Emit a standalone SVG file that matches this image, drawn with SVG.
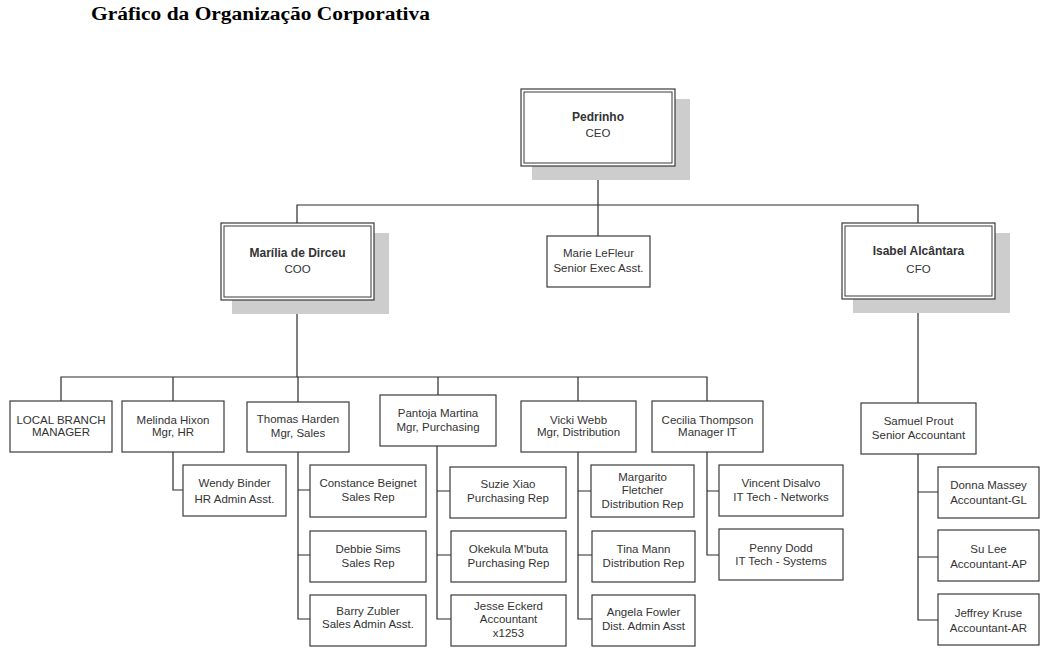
<svg xmlns="http://www.w3.org/2000/svg" width="1052" height="657" viewBox="0 0 1052 657">
<style>
.bx{fill:#fff;stroke:#3a3a3a;stroke-width:1.2}
.in{fill:none;stroke:#3a3a3a;stroke-width:1}
.sh{fill:#cdcdcd}
.t{font-family:"Liberation Sans",Arial,sans-serif;font-size:11.5px;fill:#333;text-anchor:middle}
.b{font-family:"Liberation Sans",Arial,sans-serif;font-size:12px;font-weight:bold;fill:#333;text-anchor:middle}
.cn{fill:none;stroke:#2a2a2a;stroke-width:1.2}
</style>
<rect width="1052" height="657" fill="#fff"/>
<text x="91" y="20" font-family="'Liberation Serif','Times New Roman',serif" font-size="18" font-weight="bold" fill="#000" textLength="339" lengthAdjust="spacingAndGlyphs">Gráfico da Organização Corporativa</text>

<g id="connectors">
<path class="cn" d="M598 166 V236"/>
<path class="cn" d="M297 223 V205 H918 V223"/>
<path class="cn" d="M918 299 V403"/>
<path class="cn" d="M297 300 V377"/>
<path class="cn" d="M61 401 V377 H707 V401"/>
<path class="cn" d="M173 377 V401 M298 377 V402 M438 377 V395 M578 377 V401"/>
<path class="cn" d="M173 452 V490 H183"/>
<path class="cn" d="M298 452 V619 H310 M298 490 H310 M298 555 H310"/>
<path class="cn" d="M437 446 V619 H451 M437 491 H450 M437 555 H451"/>
<path class="cn" d="M578 452 V619 H592 M578 491 H591 M578 555 H592"/>
<path class="cn" d="M707 452 V555 H719 M707 491 H719"/>
<path class="cn" d="M918 454 V620 H938 M918 492 H938 M918 557 H938"/>
</g>

<g id="ceo">
<rect class="sh" x="532" y="99" width="158" height="81"/>
<rect class="bx" x="521" y="89" width="154" height="77"/>
<rect class="in" x="524" y="92" width="148" height="71"/>
<text class="b" x="598" y="121">Pedrinho</text>
<text class="t" x="598" y="137">CEO</text>
</g>

<g id="coo">
<rect class="sh" x="232" y="233" width="157" height="81"/>
<rect class="bx" x="221" y="223" width="153" height="77"/>
<rect class="in" x="224" y="226" width="147" height="71"/>
<text class="b" x="297.5" y="257">Marília de Dirceu</text>
<text class="t" x="297.5" y="273">COO</text>
</g>

<g id="marie">
<rect class="bx" x="547" y="236" width="103" height="51"/>
<text class="t" x="598.5" y="257">Marie LeFleur</text>
<text class="t" x="598.5" y="272">Senior Exec Asst.</text>
</g>

<g id="cfo">
<rect class="sh" x="853" y="233" width="157" height="80"/>
<rect class="bx" x="842" y="223" width="153" height="76"/>
<rect class="in" x="845" y="226" width="147" height="70"/>
<text class="b" x="918.5" y="255">Isabel Alcântara</text>
<text class="t" x="918.5" y="273">CFO</text>
</g>

<g id="local">
<rect class="bx" x="10" y="401" width="102" height="51"/>
<text class="t" x="61" y="424">LOCAL BRANCH</text>
<text class="t" x="61" y="436">MANAGER</text>
</g>

<g id="melinda">
<rect class="bx" x="122" y="401" width="102" height="51"/>
<text class="t" x="173" y="424">Melinda Hixon</text>
<text class="t" x="173" y="436">Mgr, HR</text>
</g>

<g id="thomas">
<rect class="bx" x="247" y="402" width="102" height="50"/>
<text class="t" x="298" y="423">Thomas Harden</text>
<text class="t" x="298" y="437">Mgr, Sales</text>
</g>

<g id="pantoja">
<rect class="bx" x="380" y="395" width="116" height="51"/>
<text class="t" x="438" y="417">Pantoja Martina</text>
<text class="t" x="438" y="431">Mgr, Purchasing</text>
</g>

<g id="vicki">
<rect class="bx" x="521" y="401" width="115" height="51"/>
<text class="t" x="578.5" y="424">Vicki Webb</text>
<text class="t" x="578.5" y="436">Mgr, Distribution</text>
</g>

<g id="cecilia">
<rect class="bx" x="652" y="401" width="111" height="51"/>
<text class="t" x="707.5" y="424">Cecilia Thompson</text>
<text class="t" x="707.5" y="436">Manager IT</text>
</g>

<g id="samuel">
<rect class="bx" x="861" y="403" width="115" height="51"/>
<text class="t" x="918.5" y="425">Samuel Prout</text>
<text class="t" x="918.5" y="439">Senior Accountant</text>
</g>

<g id="wendy">
<rect class="bx" x="183" y="465" width="103" height="51"/>
<text class="t" x="234.5" y="487">Wendy Binder</text>
<text class="t" x="234.5" y="503">HR Admin Asst.</text>
</g>

<g id="constance">
<rect class="bx" x="310" y="465" width="116" height="52"/>
<text class="t" x="368" y="487">Constance Beignet</text>
<text class="t" x="368" y="501">Sales Rep</text>
</g>

<g id="debbie">
<rect class="bx" x="310" y="531" width="116" height="51"/>
<text class="t" x="368" y="553">Debbie Sims</text>
<text class="t" x="368" y="567">Sales Rep</text>
</g>

<g id="barry">
<rect class="bx" x="310" y="595" width="116" height="51"/>
<text class="t" x="368" y="615">Barry Zubler</text>
<text class="t" x="368" y="628">Sales Admin Asst.</text>
</g>

<g id="suzie">
<rect class="bx" x="450" y="467" width="116" height="51"/>
<text class="t" x="508" y="488">Suzie Xiao</text>
<text class="t" x="508" y="502">Purchasing Rep</text>
</g>

<g id="okekula">
<rect class="bx" x="451" y="531" width="115" height="51"/>
<text class="t" x="508.5" y="553">Okekula M'buta</text>
<text class="t" x="508.5" y="567">Purchasing Rep</text>
</g>

<g id="jesse">
<rect class="bx" x="451" y="595" width="115" height="51"/>
<text class="t" x="508.5" y="610">Jesse Eckerd</text>
<text class="t" x="508.5" y="623">Accountant</text>
<text class="t" x="508.5" y="637">x1253</text>
</g>

<g id="margarito">
<rect class="bx" x="591" y="465" width="103" height="52"/>
<text class="t" x="642.5" y="481">Margarito</text>
<text class="t" x="642.5" y="494">Fletcher</text>
<text class="t" x="642.5" y="508">Distribution Rep</text>
</g>

<g id="tina">
<rect class="bx" x="592" y="531" width="103" height="51"/>
<text class="t" x="643.5" y="553">Tina Mann</text>
<text class="t" x="643.5" y="567">Distribution Rep</text>
</g>

<g id="angela">
<rect class="bx" x="592" y="595" width="103" height="51"/>
<text class="t" x="643.5" y="616">Angela Fowler</text>
<text class="t" x="643.5" y="630">Dist. Admin Asst</text>
</g>

<g id="vincent">
<rect class="bx" x="719" y="465" width="124" height="51"/>
<text class="t" x="781" y="487">Vincent Disalvo</text>
<text class="t" x="781" y="501">IT Tech - Networks</text>
</g>

<g id="penny">
<rect class="bx" x="719" y="529" width="124" height="51"/>
<text class="t" x="781" y="552">Penny Dodd</text>
<text class="t" x="781" y="565">IT Tech - Systems</text>
</g>

<g id="donna">
<rect class="bx" x="938" y="467" width="101" height="51"/>
<text class="t" x="988.5" y="489">Donna Massey</text>
<text class="t" x="988.5" y="504">Accountant-GL</text>
</g>

<g id="sulee">
<rect class="bx" x="938" y="530" width="101" height="51"/>
<text class="t" x="988.5" y="553">Su Lee</text>
<text class="t" x="988.5" y="568">Accountant-AP</text>
</g>

<g id="jeffrey">
<rect class="bx" x="938" y="594" width="101" height="51"/>
<text class="t" x="988.5" y="617">Jeffrey Kruse</text>
<text class="t" x="988.5" y="632">Accountant-AR</text>
</g>
</svg>
